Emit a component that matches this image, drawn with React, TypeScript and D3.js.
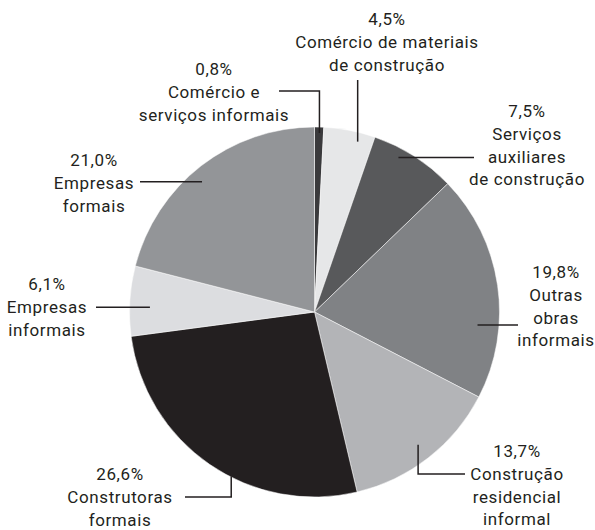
import React from 'react';
import * as d3 from 'd3';

// slices, clockwise from 12 o'clock
const shares = [0.8, 4.5, 7.5, 19.8, 13.7, 26.6, 6.1, 21.0];
const names = [
  ['Comércio e', 'serviços informais'],
  ['Comércio de materiais', 'de construção'],
  ['Serviços', 'auxiliares', 'de construção'],
  ['Outras', 'obras', 'informais'],
  ['Construção', 'residencial', 'informal'],
  ['Construtoras', 'formais'],
  ['Empresas', 'informais'],
  ['Empresas', 'formais'],
];
const fills = ['#3a3a3c', '#e6e7e8', '#58595b', '#808285', '#b3b4b7', '#231f20', '#dcdde0', '#939598'];

const W = 595;
const H = 530;
const CX = 314.5;
const CY = 312;
const R = 185;
const LINE_H = 22.8;

// label layout: text centre / first baseline, anchor inside slice (fraction of angle, fraction of radius), leader shape
type Leader =
  | { kind: 'h'; x: number }
  | { kind: 'v'; y: number }
  | { kind: 'elbow'; x: number; y: number };
const layout: { tx: number; ty: number; at: number; ar: number; leader: Leader }[] = [
  { tx: 214, ty: 75, at: 0.55, ar: 0.968, leader: { kind: 'elbow', x: 279, y: 91 } },
  { tx: 387, ty: 25, at: 0.7, ar: 0.95, leader: { kind: 'v', y: 80 } },
  { tx: 527, ty: 117, at: 0.35, ar: 0.95, leader: { kind: 'h', x: 474 } },
  { tx: 556, ty: 278, at: 0.68, ar: 0.884, leader: { kind: 'h', x: 518 } },
  { tx: 517, ty: 457, at: 0.5, ar: 0.91, leader: { kind: 'elbow', x: 465, y: 474 } },
  { tx: 120, ty: 480, at: 0.42, ar: 0.995, leader: { kind: 'elbow', x: 185, y: 497 } },
  { tx: 47, ty: 290, at: 0.42, ar: 0.89, leader: { kind: 'h', x: 96 } },
  { tx: 94, ty: 166, at: 0.46, ar: 0.93, leader: { kind: 'h', x: 140 } },
];

const fmt = (v: number) => v.toFixed(1).replace('.', ',') + '%';

export default function App() {
  const pie = d3.pie<number>().sort(null).value((d) => d);
  const arcs = pie(shares);
  const arc = d3.arc<d3.PieArcDatum<number>>().innerRadius(0).outerRadius(R);

  return (
    <div style={{ position: 'absolute', left: 0, top: 0 }}>
      <svg width={W} height={H} style={{ display: 'block', background: '#fff' }}>
        <g transform={`translate(${CX},${CY})`}>
          {arcs.map((a, i) => (
            <path key={i} d={arc(a) || ''} fill={fills[i]} stroke="#fff" strokeWidth={0.5} />
          ))}
        </g>
        {arcs.map((a, i) => {
          const l = layout[i];
          const ang = a.startAngle + (a.endAngle - a.startAngle) * l.at;
          const ax = CX + Math.sin(ang) * R * l.ar;
          const ay = CY - Math.cos(ang) * R * l.ar;
          let pts: [number, number][];
          if (l.leader.kind === 'h') pts = [[l.leader.x, ay], [ax, ay]];
          else if (l.leader.kind === 'v') pts = [[ax, l.leader.y], [ax, ay]];
          else pts = [[l.leader.x, l.leader.y], [ax, l.leader.y], [ax, ay]];
          return (
            <path
              key={'l' + i}
              d={d3.line()(pts) || ''}
              fill="none"
              stroke="#231f20"
              strokeWidth={1.5}
            />
          );
        })}
        {shares.map((v, i) => {
          const l = layout[i];
          return (
            <text
              key={'t' + i}
              x={l.tx}
              y={l.ty}
              textAnchor="middle"
              fontFamily="Roboto, sans-serif"
              fontSize={17}
              letterSpacing={0.6}
              fill="#231f20"
            >
              <tspan x={l.tx}>{fmt(v)}</tspan>
              {names[i].map((s, j) => (
                <tspan key={j} x={l.tx} dy={LINE_H}>
                  {s}
                </tspan>
              ))}
            </text>
          );
        })}
      </svg>
    </div>
  );
}
